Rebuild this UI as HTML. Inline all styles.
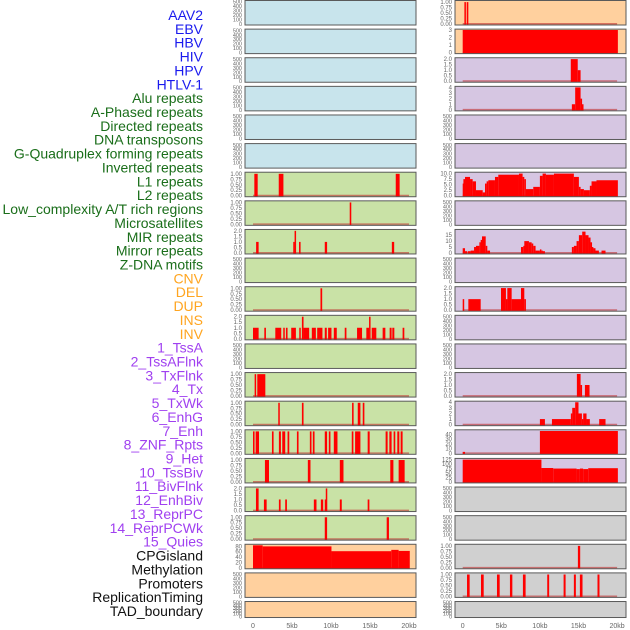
<!DOCTYPE html>
<html><head><meta charset="utf-8"><style>
html,body{margin:0;padding:0;background:#fff;}
svg{display:block;font-family:"Liberation Sans",sans-serif;}
</style></head><body>
<svg id="chart" width="630" height="630" viewBox="0 0 630 630" xmlns="http://www.w3.org/2000/svg"></svg>
<script>
const trackLabels = ["AAV2","EBV","HBV","HIV","HPV","HTLV-1","Alu repeats","A-Phased repeats","Directed repeats","DNA transposons","G-Quadruplex forming repeats","Inverted repeats","L1 repeats","L2 repeats","Low_complexity A/T rich regions","Microsatellites","MIR repeats","Mirror repeats","Z-DNA motifs","CNV","DEL","DUP","INS","INV","1_TssA","2_TssAFlnk","3_TxFlnk","4_Tx","5_TxWk","6_EnhG","7_Enh","8_ZNF_Rpts","9_Het","10_TssBiv","11_BivFlnk","12_EnhBiv","13_ReprPC","14_ReprPCWk","15_Quies","CPGisland","Methylation","Promoters","ReplicationTiming","TAD_boundary"];
const labelColors = ["#1a1aee","#1a6e1a","#ffa520","#a040f0","#111"];
const labelGroup = [0,0,0,0,0,0,1,1,1,1,1,1,1,1,1,1,1,1,1,2,2,2,2,2,3,3,3,3,3,3,3,3,3,3,3,3,3,3,3,4,4,4,4,4];
const xTickLabels = ["0","5kb","10kb","15kb","20kb"];
const xTickValues = [0,5,10,15,20];
// tick sets: [values, labels, max]
const T = {
 e:[[0,100,200,300,400,500],["0","100","200","300","400","500"],515],
 p1:[[0,0.25,0.5,0.75,1],["0.00","0.25","0.50","0.75","1.00"],1.05],
 p2:[[0,0.5,1,1.5,2],["0.0","0.5","1.0","1.5","2.0"],2.08],
 p3:[[0,1,2,3],["0","1","2","3"],3.05],
 p4:[[0,1,2,3,4],["0","1","2","3","4"],4.1],
 p10:[[0,2.5,5,7.5,10],["0.0","2.5","5.0","7.5","10.0"],10.4],
 p15:[[0,5,10,15],["0","5","10","15"],19.4],
 p40:[[0,10,20,30,40],["0","10","20","30","40"],48.5],
 p125:[[0,25,50,75,100,125],["0","25","50","75","100","125"],129],
 p80:[[0,20,40,60,80],["0","20","40","60","80"],86]
};
const leftTicks = ["e","e","e","e","e","e","p1","p1","p2","e","p1","p2","e","p1","p1","p1","p1","p2","p1","p80","e","e"];
const rightTicks = ["p1","p3","p2","p4","e","e","p10","e","p15","e","p2","e","e","p2","p4","p40","p125","e","e","p1","p1","e"];
const leftBg = ["b","b","b","b","b","b","g","g","g","g","g","g","g","g","g","g","g","g","g","o","o","o"];
const rightBg = ["o","o","u","u","u","u","u","u","u","u","u","u","u","u","u","u","u","k","k","k","k","k"];
const bgColors = {b:"#c8e4ec",g:"#c9e2a6",o:"#ffd09e",u:"#d6c6e2",k:"#d0d0d0"};
// segments [startKb, endKb, value]
const leftSegments = [
 [],[],[],[],[],[],
 [[0.17,0.6,1],[3.3,3.9,1],[18.3,18.8,1]],
 [[12.4,12.6,1]],
 [[0.4,0.72,1],[5.16,5.33,1],[5.33,5.5,2],[5.9,6.1,1],[9.2,9.5,1],[17.8,18.1,1]],
 [],
 [[8.65,8.87,1]],
 [[0,0.72,1],[1.45,1.66,1],[2.86,3.62,1],[3.88,4.05,1],[4.22,4.43,1],[4.9,5.5,1],[5.93,6.1,1],[6.27,6.48,2],[6.48,7.2,1],[7.54,8.06,1],[8.23,8.9,1],[9.2,9.46,1],[9.63,10.06,1],[10.36,10.74,1],[11.76,11.98,1],[13.34,13.98,1],[14.53,14.88,1],[14.88,15.05,2],[15.22,15.81,1],[16.62,16.97,1],[17.52,17.77,1],[17.86,18.12,1],[19.18,19.4,1]],
 [],
 [[0.21,0.38,1],[0.55,1.58,1]],
 [[3.24,3.41,1],[6.27,6.48,1],[12.7,12.9,1],[13.43,13.77,1],[14.07,14.28,1]],
 [[0,0.2,1],[0.34,0.77,1],[2.43,2.64,1],[3.32,3.58,1],[3.75,4.13,1],[4.43,4.65,1],[5.63,5.84,1],[7.29,7.5,1],[7.67,7.89,1],[9.2,9.5,1],[9.72,9.93,1],[10.36,10.83,1],[12.66,12.87,1],[13.09,13.77,1],[14.7,14.96,1],[17,17.26,1],[17.48,17.77,1],[18.03,18.24,1],[18.5,18.76,1],[18.93,19.18,1]],
 [[1.53,2.05,1],[7.03,7.37,1],[11.13,11.6,1],[17.6,18,1],[18.67,19.44,1]],
 [[0.38,0.72,2],[1.4,1.75,1],[3.32,3.54,1],[4.13,4.35,1],[7.8,8.14,1],[8.7,9,1],[9.2,9.33,1],[9.33,9.5,2],[11.13,11.38,1],[14.7,14.92,1]],
 [[9.2,9.5,1],[17.14,17.43,1]],
 [[0,1.24,84],[1.24,10.06,80],[10.06,17.73,62],[17.73,18.67,67],[18.67,20.1,63]],
 [],[]
];
const rightSegments = [
 [[0.22,0.39,1],[0.52,0.73,1]],
 [[0,20.1,3]],
 [[14,14.9,2],[14.9,15.27,1]],
 [[14.14,14.57,1],[14.57,15.27,4],[15.27,15.44,2],[15.44,15.65,1]],
 [],[],
 [[0,0.09,5.5],[0.09,0.3,7.5],[0.3,0.95,8.5],[0.95,1.29,7.5],[1.29,1.72,6.5],[1.72,2.59,2.5],[2.59,2.89,1.5],[2.89,3.1,5.5],[3.1,3.32,6.5],[3.32,4.18,7],[4.18,4.61,8.5],[4.61,7.29,9.5],[7.29,7.76,10],[7.76,7.98,8.5],[7.98,8.19,7.5],[8.19,9.14,3],[9.14,10,4],[10,10.35,9],[10.35,10.78,10],[10.78,11.82,9.5],[11.82,14.4,10],[14.4,15.05,8.5],[15.05,15.27,4],[15.27,15.7,3],[15.7,16.47,2.5],[16.47,16.69,4.5],[16.69,17.33,6.5],[17.33,20.1,7]],
 [],
 [[0,0.3,4],[0.3,0.6,1.5],[0.69,1.03,1.5],[1.03,1.47,2],[1.47,1.72,5],[1.72,2.16,6],[2.16,2.33,9],[2.33,2.5,11],[2.5,2.98,14],[2.98,3.19,6],[3.19,3.54,2],[7.55,7.85,5],[7.85,7.98,6],[7.98,8.58,10],[8.58,8.93,9],[8.93,9.14,8],[9.14,9.44,6],[9.44,10,2],[10,10.18,3],[10.18,10.35,2],[10.35,10.65,1.5],[14.14,14.4,5],[14.4,14.75,6],[14.75,15.05,10],[15.05,15.48,15],[15.48,15.91,18],[15.91,16.3,15],[16.3,16.56,13],[16.56,16.73,9],[16.73,16.9,5],[16.9,17.2,4],[17.2,17.64,2],[17.98,18.5,2]],
 [],
 [[0,0.09,1],[0.73,2.33,1],[4.96,5.6,2],[5.6,5.78,1],[5.78,6.34,2],[6.34,7.55,1],[7.55,7.98,2],[7.98,8.19,1]],
 [],[],
 [[14.79,15.27,2],[15.27,15.4,1],[15.83,16.43,1]],
 [[10,10.65,1],[11.56,14.01,1],[14.01,14.19,2],[14.19,14.57,3],[14.57,15,4],[15,15.44,2],[15.44,15.61,1],[15.61,16.04,2],[16.04,16.47,1],[17.68,18.5,1]],
 [[0,0.3,3],[10,20.1,47]],
 [[0,10.2,125],[10.2,11.73,78],[11.73,14.75,75],[14.75,15.18,72],[15.18,15.6,75],[15.6,16.26,72],[16.26,20.1,77]],
 [],[],
 [[14.92,15.22,1]],
 [[0.56,0.9,1],[2.37,2.72,1],[4.44,4.79,1],[6.12,6.43,1],[7.8,8.15,1],[10.95,11.2,1],[13.07,13.33,1],[14.4,14.66,1],[15.18,15.52,1],[17.46,17.72,1]],
 []
];

const NS="http://www.w3.org/2000/svg";
const svg=document.getElementById('chart');
function mk(tag,attrs,parent){const e=document.createElementNS(NS,tag);for(const k in attrs)e.setAttribute(k,attrs[k]);(parent||svg).appendChild(e);return e;}
const rowStep=28.62, panelH=24.5;
const cols=[{x0:245,x1:416,zero:253,kbPx:7.8,ticks:leftTicks,bg:leftBg,seg:leftSegments,name:'left'},
            {x0:455,x1:626,zero:462.7,kbPx:7.72,ticks:rightTicks,bg:rightBg,seg:rightSegments,name:'right'}];

// labels
trackLabels.forEach((t,i)=>{
  const e=mk('text',{x:203,y:20+i*13.86,'text-anchor':'end','font-size':14,fill:labelColors[labelGroup[i]]});
  e.textContent=t;
  
  
});

cols.forEach(c=>{
  const xs=kb=>c.zero+kb*c.kbPx;
  for(let r=0;r<22;r++){
    const top=0.5+r*rowStep;
    const h=(r===21)?16:panelH;
    const bottom=top+h;
    const tk=T[c.ticks[r]];
    const ys=v=>bottom-1-(v/tk[2])*(h-1.5);
    const g=mk('g',{});
    
    
    mk('rect',{x:c.x0,y:top,width:c.x1-c.x0,height:h,fill:bgColors[c.bg[r]]},g);
    const isEmpty=c.ticks[r]==='e';
    if(!isEmpty){
      mk('line',{x1:xs(0),x2:xs(20),y1:bottom-1.2,y2:bottom-1.2,stroke:'#c03030','stroke-opacity':0.6,'stroke-width':1.5},g);
    }
    c.seg[r].forEach(s=>{
      const x1=xs(s[0]),x2=xs(s[1]);
      const b=mk('rect',{x:x1,y:ys(s[2]),width:Math.max(1.5,x2-x1),height:ys(0)-ys(s[2])+1,fill:'#ff0000'},g);
      
      
    });
    mk('rect',{x:c.x0,y:top,width:c.x1-c.x0,height:h,fill:'none',stroke:'#5a5a5a','stroke-width':1},g);
    tk[0].forEach((v,j)=>{
      const tt=mk('text',{x:c.x0-3,y:ys(v)+2,'text-anchor':'end','font-size':(r===21||isEmpty)?5.5:6,fill:'#666'},g);
      tt.textContent=tk[1][j];
      
      
    });
  }
  xTickValues.forEach((v,j)=>{
    const t=mk('text',{x:xs(v),y:628,'text-anchor':'middle','font-size':7,fill:'#666'});
    t.textContent=xTickLabels[j];
    
    
  });
});
</script>
</body></html>
